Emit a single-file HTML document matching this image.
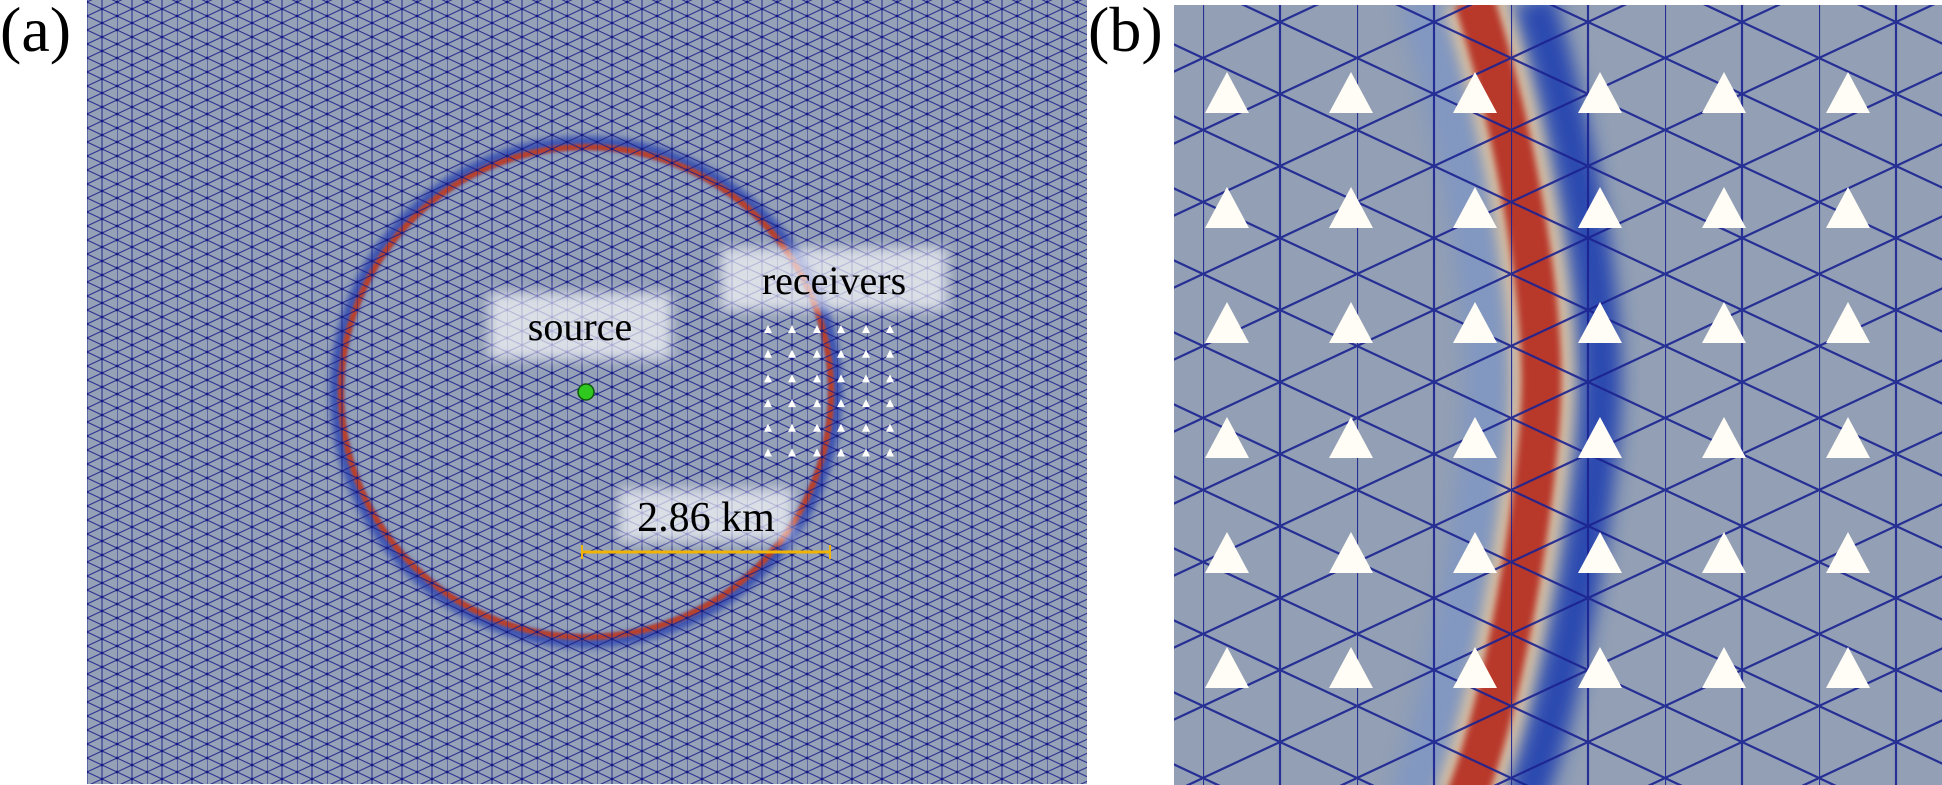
<!DOCTYPE html>
<html><head><meta charset="utf-8"><style>
html,body{margin:0;padding:0;background:#fff;}
body{width:1942px;height:785px;overflow:hidden;position:relative;font-family:"Liberation Serif",serif;}
.lbl{position:absolute;font-size:64px;color:#000;line-height:1;}
</style></head><body>
<svg width="1942" height="785" style="position:absolute;left:0;top:0">
<defs>
<pattern id="ma" x="87" y="2" width="30" height="14" patternUnits="userSpaceOnUse">
<g stroke="#1c1f8c" stroke-width="1.1" fill="none" opacity="0.85">
<line x1="0" y1="0" x2="0" y2="14"/>
<line x1="15" y1="0" x2="15" y2="14"/>
<line x1="0" y1="0" x2="30" y2="14"/>
<line x1="0" y1="14" x2="30" y2="0"/>
</g>
<circle cx="0" cy="0" r="1.4" fill="#141a80"/><circle cx="0" cy="14" r="1.4" fill="#141a80"/><circle cx="15" cy="7" r="1.4" fill="#141a80"/><circle cx="30" cy="0" r="1.4" fill="#141a80"/><circle cx="30" cy="14" r="1.4" fill="#141a80"/>
</pattern>
<pattern id="mb" x="1203" y="58" width="154" height="72" patternUnits="userSpaceOnUse">
<g stroke="#1a2290" stroke-width="2.2" fill="none" opacity="0.9">
<line x1="0" y1="0" x2="0" y2="72"/>
<line x1="77" y1="0" x2="77" y2="72"/>
<line x1="0" y1="0" x2="154" y2="72"/>
<line x1="0" y1="72" x2="154" y2="0"/>
</g>
</pattern>
<filter id="b4" x="-50%" y="-50%" width="200%" height="200%"><feGaussianBlur stdDeviation="3.5"/></filter>
<filter id="b8" x="-50%" y="-50%" width="200%" height="200%"><feGaussianBlur stdDeviation="9"/></filter>
<filter id="b2" x="-50%" y="-50%" width="200%" height="200%"><feGaussianBlur stdDeviation="1.2"/></filter>
<filter id="b6" x="-50%" y="-50%" width="200%" height="200%"><feGaussianBlur stdDeviation="6"/></filter>
<clipPath id="ca"><rect x="87" y="0" width="1000" height="784"/></clipPath>
<clipPath id="cb"><rect x="1174" y="5" width="768" height="780"/></clipPath>
</defs>
<g clip-path="url(#ca)">
<rect x="87" y="0" width="1000" height="784" fill="#95a1b6"/>
<circle cx="586" cy="392" r="250" fill="none" stroke="#2c44b0" stroke-width="12" filter="url(#b4)" opacity="0.85"/>
<circle cx="586" cy="392" r="245" fill="none" stroke="#b8402c" stroke-width="6" filter="url(#b2)"/>
<rect x="87" y="0" width="1000" height="784" fill="url(#ma)"/>
<rect x="489" y="293" width="182" height="66" fill="#fff" opacity="0.65" filter="url(#b6)"/>
<rect x="721" y="248" width="226" height="62" fill="#fff" opacity="0.65" filter="url(#b6)"/>
<rect x="619" y="489" width="174" height="52" fill="#fff" opacity="0.65" filter="url(#b6)"/>
<text x="580" y="340" font-family="Liberation Serif,serif" font-size="40" text-anchor="middle">source</text>
<text x="834" y="294" font-family="Liberation Serif,serif" font-size="40" text-anchor="middle">receivers</text>
<text x="706" y="531" font-family="Liberation Serif,serif" font-size="42" text-anchor="middle">2.86 km</text>
<line x1="582" y1="552" x2="830" y2="552" stroke="#f2b400" stroke-width="3"/>
<line x1="582" y1="545" x2="582" y2="559" stroke="#f2b400" stroke-width="2"/>
<line x1="830" y1="545" x2="830" y2="559" stroke="#f2b400" stroke-width="2"/>
<circle cx="586" cy="392" r="8" fill="#2ec81e" stroke="#115510" stroke-width="1.5"/>
<g fill="#fff">
<g id="rr">
<polygon points="768,325 772,333 764,333"/><polygon points="792,325 796,333 788,333"/><polygon points="817,325 821,333 813,333"/><polygon points="841,325 845,333 837,333"/><polygon points="866,325 870,333 862,333"/><polygon points="890,325 894,333 886,333"/>
</g>
<use href="#rr" y="24.7"/><use href="#rr" y="49.4"/><use href="#rr" y="74.1"/><use href="#rr" y="98.8"/><use href="#rr" y="123.5"/>
</g>
</g>
<g clip-path="url(#cb)">
<rect x="1174" y="5" width="768" height="780" fill="#929fb4"/>
<g fill="none">
<path d="M1419,0 C1460,130 1490,300 1486,400 S1450,700 1410,800" stroke="#6f8fd0" stroke-width="45" opacity="0.45" filter="url(#b8)"/>
<path d="M1534,0 C1575,130 1605,300 1601,400 S1565,700 1525,800" stroke="#2a48b0" stroke-width="40" filter="url(#b8)"/>
<path d="M1474,0 C1515,130 1545,300 1541,400 S1505,700 1465,800" stroke="#e8c9a0" stroke-width="62" filter="url(#b6)" opacity="0.8"/>
<path d="M1474,0 C1515,130 1545,300 1541,400 S1505,700 1465,800" stroke="#b8372a" stroke-width="40" filter="url(#b4)"/>
</g>
<rect x="1174" y="5" width="768" height="780" fill="url(#mb)"/>
<g fill="#fffdf5">
<g id="tb">
<polygon points="1227,72 1249,113 1205,113"/><polygon points="1351,72 1373,113 1329,113"/><polygon points="1475,72 1497,113 1453,113"/><polygon points="1600,72 1622,113 1578,113"/><polygon points="1724,72 1746,113 1702,113"/><polygon points="1848,72 1870,113 1826,113"/>
</g>
<use href="#tb" y="115"/><use href="#tb" y="230"/><use href="#tb" y="345"/><use href="#tb" y="460"/><use href="#tb" y="575"/>
</g>
</g>
</svg>
<div class="lbl" style="left:0;top:-2px;">(a)</div>
<div class="lbl" style="left:1088px;top:-2px;">(b)</div>
</body></html>
